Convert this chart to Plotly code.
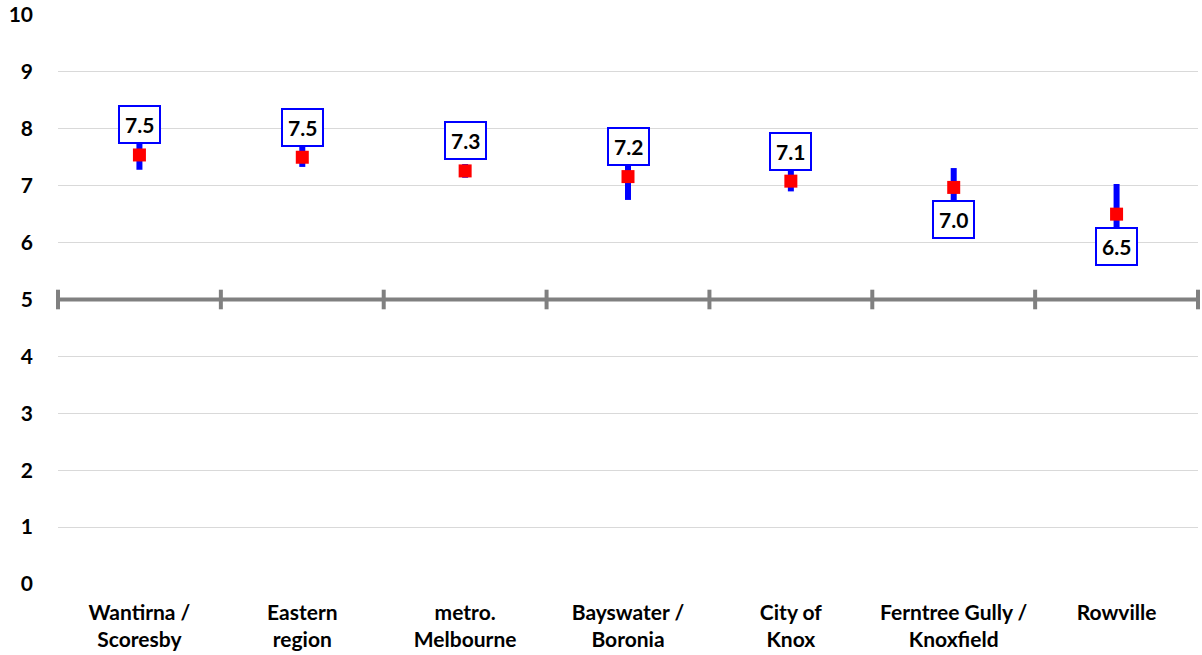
import plotly.graph_objects as go

categories = ["Wantirna /<br>Scoresby", "Eastern<br>region", "metro.<br>Melbourne",
              "Bayswater /<br>Boronia", "City of<br>Knox", "Ferntree Gully /<br>Knoxfield", "Rowville"]
means = [7.54, 7.50, 7.26, 7.16, 7.08, 6.97, 6.50]
upper = [7.80, 7.68, 7.38, 7.55, 7.30, 7.31, 7.03]
lower = [7.28, 7.33, 7.14, 6.75, 6.90, 6.65, 5.97]
label_above = [True, True, True, True, True, False, False]
reference_value = 5

FONT = "Lato"
x_idx = list(range(len(categories)))

fig = go.Figure()

# reference line at 5 with boundary ticks
bounds = [i - 0.5 for i in range(len(categories) + 1)]
fig.add_trace(go.Scatter(
    x=bounds, y=[reference_value] * len(bounds), mode="lines+markers",
    line=dict(color="#808080", width=4),
    marker=dict(symbol="line-ns", size=14, line=dict(color="#808080", width=4)),
    hoverinfo="skip", showlegend=False, cliponaxis=False))

fig.add_trace(go.Scatter(
    x=x_idx, y=means, mode="markers",
    marker=dict(symbol="square", size=13, color="#FF0000"),
    error_y=dict(type="data", symmetric=False,
                 array=[u - m for u, m in zip(upper, means)],
                 arrayminus=[m - l for m, l in zip(means, lower)],
                 color="#0000FF", thickness=6, width=0),
    showlegend=False))

for i, (m, above) in enumerate(zip(means, label_above)):
    fig.add_annotation(
        x=i, y=m, text=f"<b>{m:.1f}</b>", showarrow=False,
        yshift=30 if above else -32,
        font=dict(family=FONT, size=21, color="black"),
        bgcolor="white", bordercolor="#0000FF", borderwidth=2, borderpad=5)

fig.update_layout(
    width=1202, height=655,
    margin=dict(l=58, r=4, t=15, b=71),
    plot_bgcolor="white", paper_bgcolor="white",
    font=dict(family=FONT, color="black"),
    xaxis=dict(range=[-0.5, len(categories) - 0.5], tickmode="array",
               tickvals=x_idx, ticktext=[f"<b>{c}</b>" for c in categories],
               tickfont=dict(family=FONT, size=21, color="black"),
               showgrid=False, zeroline=False, showline=False, ticks="",
               ticklabelstandoff=14, automargin=False),
    yaxis=dict(range=[0, 10], showgrid=True, gridcolor="#D9D9D9", gridwidth=1,
               zeroline=False, showline=False, ticks="",
               tickfont=dict(family=FONT, size=21, color="black"),
               ticklabelstandoff=24, automargin=False,
               tickvals=list(range(11)), ticktext=[f"<b>{v}</b>" for v in range(11)]),
)

fig.write_html("out.html", config={"displayModeBar": False},
               post_script="document.body.style.margin='0';document.body.style.overflow='hidden';")
